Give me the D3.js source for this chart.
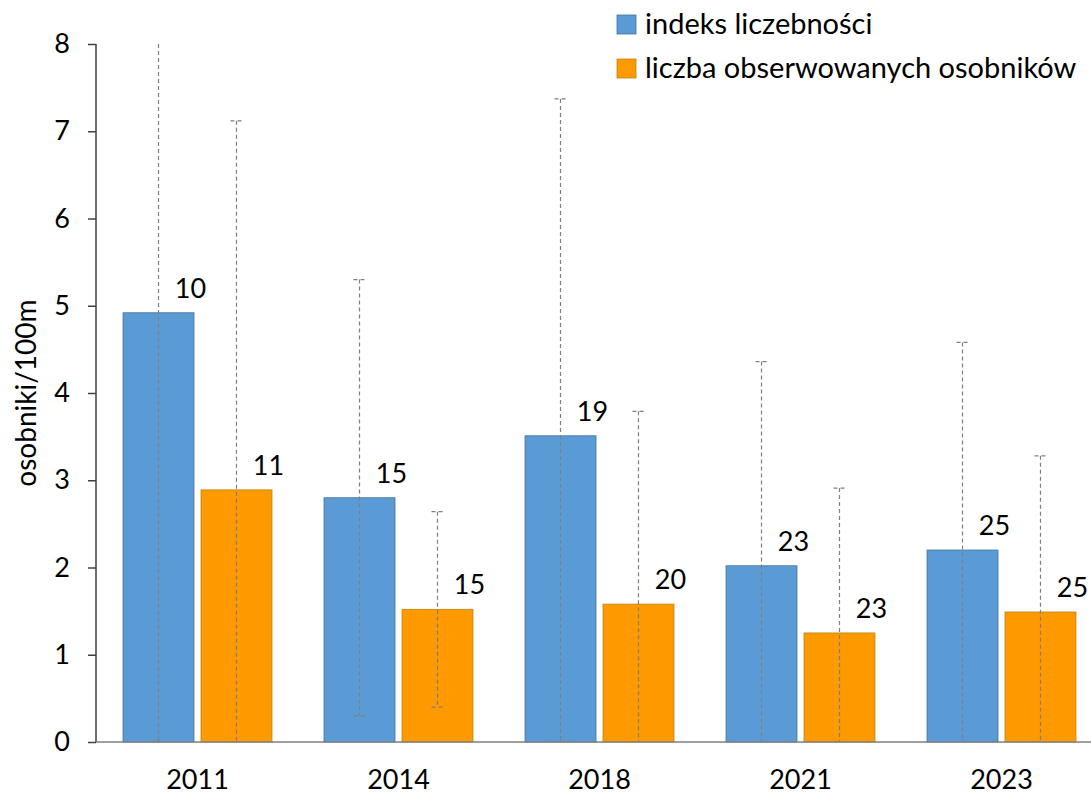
<!DOCTYPE html>
<html>
<head>
<meta charset="utf-8">
<script src="https://cdn.jsdelivr.net/npm/d3@7"></script>
<style>
    body { margin: 0; background: #fff; }
    svg { display: block; font-family: Lato, "Open Sans", sans-serif; }
</style>
</head>
<body>
<div id="chart"></div>
<script>
// chart values
const years = ["2011", "2014", "2018", "2021", "2023"];
const seriesNames = ["indeks liczebności", "liczba obserwowanych osobników"];
const indexValues = [4.92, 2.80, 3.51, 2.02, 2.20];
const indexErrors = [5.6, 2.50, 3.86, 2.34, 2.38];
const indexCounts = [10, 15, 19, 23, 25];
const countValues = [2.89, 1.52, 1.58, 1.25, 1.49];
const countErrors = [4.23, 1.12, 2.21, 1.66, 1.79];
const countCounts = [11, 15, 20, 23, 25];
const yTicks = [0, 1, 2, 3, 4, 5, 6, 7, 8];

const colors = ["#5B9BD5", "#FF9900"];
const strokes = ["#41719C", "#B8860B"];

const width = 1091;
const height = 796;

const svg = d3.select("#chart")
    .append("svg")
    .attr("width", width)
    .attr("height", height);

const x0 = d3.scaleBand()
    .domain(years)
    .range([97, 1102])
    .paddingInner(0.259)
    .paddingOuter(0.1295);

const x1 = d3.scaleBand()
    .domain([0, 1])
    .range([0, x0.bandwidth()])
    .paddingInner(0.09);

const y = d3.scaleLinear()
    .domain([0, 8])
    .range([742, 44]);

const rows = years.map((yr, i) => [
    { year: yr, s: 0, value: indexValues[i], err: indexErrors[i], n: indexCounts[i] },
    { year: yr, s: 1, value: countValues[i], err: countErrors[i], n: countCounts[i] },
]).flat();

// y axis
const yAxis = svg.append("g")
    .attr("transform", "translate(96,0)")
    .call(d3.axisLeft(y).tickValues(yTicks).tickSize(8).tickPadding(18).tickFormat(d3.format("d")));
yAxis.select(".domain").attr("stroke", "#404040").attr("stroke-width", 1.5)
    .attr("d", `M0,${y(8)}V${y(0)}`);
yAxis.selectAll(".tick line").attr("stroke", "#404040").attr("stroke-width", 1.5);
yAxis.selectAll(".tick text")
    .attr("font-size", 27)
    .attr("font-family", "Lato, sans-serif")
    .attr("fill", "#000");

// bars
const bars = svg.append("g");
bars.selectAll("rect")
    .data(rows)
    .join("rect")
    .attr("x", (d) => x0(d.year) + x1(d.s))
    .attr("y", (d) => y(d.value))
    .attr("width", x1.bandwidth())
    .attr("height", (d) => y(0) - y(d.value))
    .attr("fill", (d) => colors[d.s])
    .attr("stroke", (d) => strokes[d.s])
    .attr("stroke-opacity", 0.8)
    .attr("stroke-width", 1);

// x axis line
svg.append("line")
    .attr("x1", 96)
    .attr("x2", width)
    .attr("y1", y(0))
    .attr("y2", y(0))
    .attr("stroke", "#7f7f7f")
    .attr("stroke-width", 1.5);

// error bars, clipped to plot area
const errG = svg.append("g")
    .attr("stroke", "#7f7f7f")
    .attr("stroke-width", 1.2)
    .attr("stroke-dasharray", "4,3")
    .attr("fill", "none");

rows.forEach((d) => {
    const cx = x0(d.year) + x1(d.s) + x1.bandwidth() / 2;
    const hi = d.value + d.err;
    const lo = d.value - d.err;
    errG.append("line")
        .attr("x1", cx).attr("x2", cx)
        .attr("y1", y(Math.min(hi, 8)))
        .attr("y2", y(Math.max(lo, 0)));
    if (hi <= 8) {
        errG.append("line")
            .attr("x1", cx - 6).attr("x2", cx + 6)
            .attr("y1", y(hi)).attr("y2", y(hi));
    }
    if (lo >= 0) {
        errG.append("line")
            .attr("x1", cx - 6).attr("x2", cx + 6)
            .attr("y1", y(lo)).attr("y2", y(lo));
    }
});

// data labels
svg.append("g")
    .selectAll("text")
    .data(rows)
    .join("text")
    .attr("x", (d) => x0(d.year) + x1(d.s) + x1.bandwidth() / 2 + 32)
    .attr("y", (d) => y(d.value) - 15)
    .attr("text-anchor", "middle")
    .attr("font-size", 27)
    .attr("fill", "#000")
    .text((d) => d.n);

// x labels
svg.append("g")
    .selectAll("text")
    .data(years)
    .join("text")
    .attr("x", (d) => x0(d) + x0.bandwidth() / 2)
    .attr("y", 789)
    .attr("text-anchor", "middle")
    .attr("font-size", 27)
    .attr("fill", "#000")
    .text((d) => d);

// y title
svg.append("text")
    .attr("transform", `translate(36,${(y(0) + y(8)) / 2}) rotate(-90)`)
    .attr("text-anchor", "middle")
    .attr("font-size", 28)
    .attr("fill", "#000")
    .text("osobniki/100m");

// legend
const legend = svg.append("g").attr("transform", "translate(617,15)");
const items = legend.selectAll("g")
    .data(seriesNames)
    .join("g")
    .attr("transform", (d, i) => `translate(0,${i * 44})`);
items.append("rect")
    .attr("width", 19)
    .attr("height", 19)
    .attr("fill", (d, i) => colors[i])
    .attr("stroke", (d, i) => strokes[i])
    .attr("stroke-opacity", 0.8);
items.append("text")
    .attr("x", 28)
    .attr("y", 19)
    .attr("font-size", 29)
    .attr("fill", "#000")
    .text((d) => d);
</script>
</body>
</html>
